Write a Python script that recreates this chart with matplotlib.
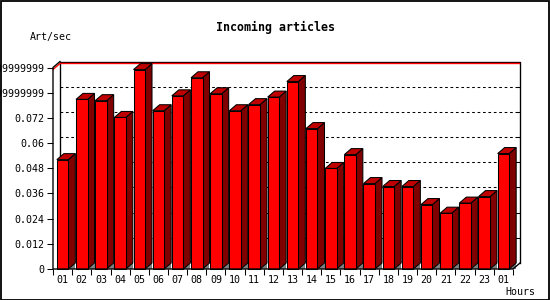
import matplotlib
matplotlib.use("Agg")
import matplotlib.pyplot as plt
from matplotlib.patches import Polygon, Rectangle
import numpy as np

hours = ["01", "02", "03", "04", "05", "06", "07", "08", "09", "10", "11", "12",
         "13", "14", "15", "16", "17", "18", "19", "20", "21", "22", "23", "01"]
values = [0.0521, 0.0808, 0.0802, 0.0722, 0.0950, 0.0754, 0.0825, 0.0911,
          0.0835, 0.0754, 0.0783, 0.0819, 0.0893, 0.0669, 0.0479, 0.0545,
          0.0407, 0.0393, 0.0393, 0.0307, 0.0266, 0.0314, 0.0345, 0.0550]
ytick_values = [0, 0.012, 0.024, 0.036, 0.048, 0.06, 0.072, 0.084, 0.096]
ytick_labels = ["0", "0.012", "0.024", "0.036", "0.048", "0.06", "0.072",
                "0.08399999999999999", "0.09599999999999999"]
title = "Incoming articles"
ylabel = "Art/sec"
xlabel = "Hours"

W, H = 550, 300
fig = plt.figure(figsize=(W / 100, H / 100), dpi=100)
fig.patch.set_facecolor("white")

ax_l, ax_b, ax_w, ax_h = 53, 31, 460, 201.5
ax = fig.add_axes([ax_l / W, ax_b / H, ax_w / W, ax_h / H])
ax.set_xlim(0, len(values))
ax.set_ylim(0, ytick_values[-1])
ax.patch.set_alpha(0)
for s in ax.spines.values():
    s.set_visible(False)

n = len(values)
ymax = ytick_values[-1]
dx = 7 * n / ax_w
dy = 6 * ymax / ax_h
px_y = ymax / ax_h
LW = 0.75

font = "DejaVu Sans Mono"

# back plane grid
for v in ytick_values[1:-1]:
    ax.plot([dx, n + dx], [v + dy, v + dy], color="black", lw=LW,
            ls=(0, (2.6, 2.6)), clip_on=False, zorder=1)

# back plane border
ax.plot([dx, dx, n + dx, n + dx], [dy, ymax + dy, ymax + dy, dy],
        color="black", lw=LW * 1.3, clip_on=False, zorder=1)
# red top line
off = 2.0 * px_y
ax.plot([0, dx, n + dx - 0.5 * n / ax_w], [ymax - off, ymax + dy - off, ymax + dy - off],
        color="red", lw=LW * 1.3, clip_on=False, zorder=1.5)
# front axes and diagonals
ax.plot([n + dx, n, 0, 0, dx], [dy, 0, 0, ymax, ymax + dy],
        color="black", lw=LW * 1.3, clip_on=False, zorder=6)
# inner tick marks on right edge of back plane
for v in ytick_values[1:-1]:
    ax.plot([n + dx - 4 * n / ax_w, n + dx], [v + dy, v + dy], color="black",
            lw=LW, clip_on=False, zorder=1)

bw = 0.6
for i, v in enumerate(values):
    x0 = i + 0.5 - bw / 2
    x1 = i + 0.5 + bw / 2
    ax.add_patch(Polygon([(x1, 0), (x1 + dx, 0), (x1 + dx, dy)], closed=True,
                         facecolor="#808080", edgecolor="none", zorder=2, clip_on=False))
    ax.add_patch(Polygon([(x1, 0), (x1, v), (x1 + dx, v + dy), (x1 + dx, dy)], closed=True,
                         facecolor="#800000", edgecolor="black", lw=LW, zorder=3, clip_on=False))
    ax.add_patch(Polygon([(x0, v), (x0 + dx, v + dy), (x1 + dx, v + dy), (x1, v)], closed=True,
                         facecolor="#c00000", edgecolor="black", lw=LW, zorder=3, clip_on=False))
ax.bar(np.arange(n) + 0.5, values, width=bw, color="red", edgecolor="black",
       lw=LW, zorder=4, clip_on=False)

ax.set_yticks(ytick_values)
ax.set_yticklabels(ytick_labels, fontfamily=font, fontsize=7.2)
ax.set_xticks(np.arange(n + 1))
ax.set_xticklabels([])
ax.set_xticks(np.arange(n) + 0.5, minor=True)
ax.set_xticklabels(hours, minor=True, fontfamily=font, fontsize=7.2)
ax.tick_params(axis="y", direction="out", length=4, width=LW, pad=2, color="black")
ax.tick_params(axis="x", which="major", direction="out", length=4, width=LW)
ax.tick_params(axis="x", which="minor", length=0, pad=4)

fig.text(275 / W, 1 - 27 / H, title, ha="center", va="center",
         fontfamily=font, fontsize=8.4, fontweight="bold")
fig.text(30 / W, 1 - 37 / H, ylabel, ha="left", va="center",
         fontfamily=font, fontsize=7.2)
fig.text(535 / W, 1 - 292 / H, xlabel, ha="right", va="center",
         fontfamily=font, fontsize=7.2)

fig.add_artist(Rectangle((0.5 / W, 0.5 / H), 1 - 1.5 / W, 1 - 1.5 / H,
                         transform=fig.transFigure, fill=False,
                         edgecolor="black", lw=1.3))

fig.savefig("out.png", dpi=100)
